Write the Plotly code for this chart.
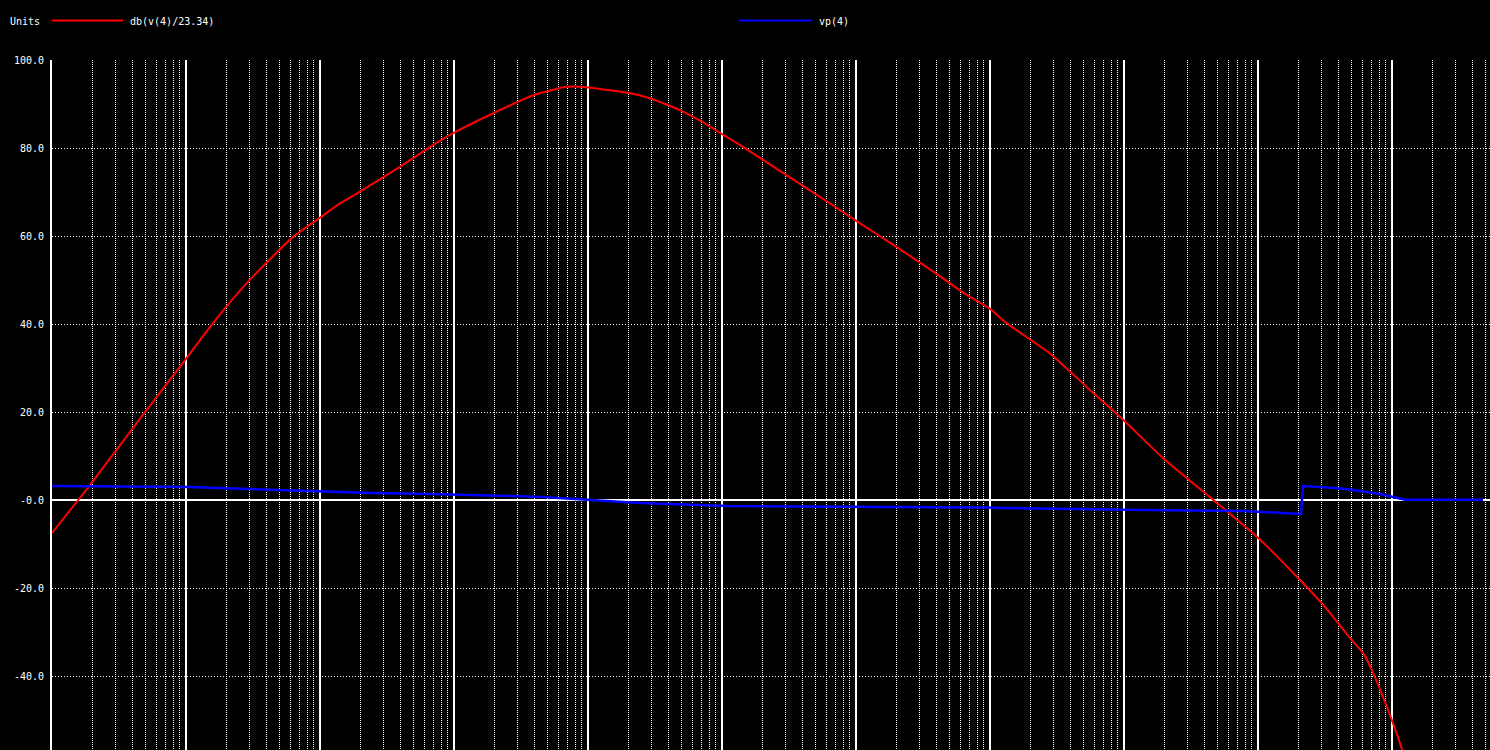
import plotly.graph_objects as go

# ---- data ----
freq_db = [1.0, 1.57, 1.92, 5.09, 9.84, 15.9, 28.4, 62.9, 98.4, 141, 199, 395, 701, 977,
           1963, 3908, 6934, 9772, 12300, 19450, 29040, 48640, 68550, 98400, 144300,
           286600, 538300, 984000, 1.897e6, 3.775e6, 6.70e6, 9.84e6, 1.33e7, 2.805e7,
           5.57e7, 9.88e7, 1.96e8, 4.64e8, 9.77e8, 1.945e9, 3.16e9, 5.0e9, 6.1e9,
           7.25e9, 9.77e9, 1.18e10, 1.25e10]
db_v4 = [-7.5, 0, 3.4, 20.5, 31.8, 40.2, 49.3, 59.8, 64.0, 67.4, 70.1, 75.7, 80.7, 83.3,
         87.9, 92.0, 93.9, 93.8, 93.4, 92.6, 91.3, 88.6, 86.2, 83.3, 80.2,
         74.3, 68.9, 63.6, 58.0, 51.9, 46.6, 43.6, 40.2, 33.3,
         25.0, 18.2, 9.5, 0.0, -8.3, -17.4, -24.3, -31.8, -34.8,
         -39.4, -49.3, -56.4, -59.0]

freq_vp = [1.0, 3.05, 10.7, 17.3, 29.0, 46.1, 70.9, 115, 244, 662, 1435, 2805, 4943, 6855,
           9506, 13400, 19550, 28050, 40930, 67300, 110900, 382000, 2.13e6, 9.18e6,
           1.62e7, 4.16e7, 2.02e8, 7.86e8, 1.19e9, 1.73e9, 2.09e9, 2.17e9, 2.81e9,
           3.76e9, 4.70e9, 5.67e9, 6.74e9, 8.13e9, 9.50e9, 1.11e10, 1.25e10, 4.77e10]
vp_4 = [3.16, 3.10, 2.98, 2.73, 2.50, 2.27, 2.05, 1.82, 1.59, 1.36, 1.14, 0.91, 0.60, 0.30,
        0.0, -0.23, -0.53, -0.76, -0.91, -1.06, -1.36, -1.50, -1.60, -1.68,
        -1.89, -2.11, -2.34, -2.50, -2.80, -3.10, -3.16, 3.18, 3.02,
        2.73, 2.43, 2.11, 1.75, 1.36, 0.91, 0.45, 0.07, 0.05]

y_ticks = [100, 80, 60, 40, 20, 0, -20, -40]
y_labels = ["100.0", "80.0", "60.0", "40.0", "20.0", "-0.0", "-20.0", "-40.0"]

trace_names = ["db(v(4)/23.34)", "vp(4)"]
trace_colors = ["#ff0000", "#0000ff"]

FONT = "DejaVu Sans Mono"

fig = go.Figure()
fig.add_trace(go.Scatter(x=freq_db, y=db_v4, mode="lines", name=trace_names[0],
                         line=dict(color=trace_colors[0], width=2, shape="spline",
                                   smoothing=0.5),
                         showlegend=False))
fig.add_trace(go.Scatter(x=freq_vp, y=vp_4, mode="lines", name=trace_names[1],
                         line=dict(color=trace_colors[1], width=2.5), showlegend=False))

W, H = 1490, 750
ML, MT = 52, 60
PW, PH = W - ML, H - MT


def px(xp):
    return (xp - ML) / PW


def py(yp):
    return (H - yp) / PH


# legend-like header
fig.add_annotation(text="Units", xref="paper", yref="paper", x=px(8), y=py(21),
                   xanchor="left", yanchor="middle", showarrow=False,
                   font=dict(family=FONT, size=10, color="white"))
legend_pos = [(52, 123, 128), (739, 812, 817)]
for (x0, x1, xt), name, col in zip(legend_pos, trace_names, trace_colors):
    fig.add_shape(type="line", xref="paper", yref="paper", x0=px(x0), x1=px(x1),
                  y0=py(20.5), y1=py(20.5), line=dict(color=col, width=2))
    fig.add_annotation(text=name, xref="paper", yref="paper", x=px(xt), y=py(21),
                       xanchor="left", yanchor="middle", showarrow=False,
                       font=dict(family=FONT, size=10, color="white"))

fig.update_layout(
    width=W, height=H,
    margin=dict(l=ML, r=0, t=MT, b=0),
    paper_bgcolor="black", plot_bgcolor="black",
    font=dict(family=FONT, size=10, color="white"),
    xaxis=dict(type="log", range=[0, (W - ML) / 134.0], dtick=1, tick0=0,
               showgrid=True, gridcolor="white", gridwidth=2,
               showticklabels=False, ticks="", zeroline=False, showline=False,
               minor=dict(dtick="D1", showgrid=True, gridcolor="white",
                          gridwidth=1, griddash="1px,1px", ticks="")),
    yaxis=dict(range=[(500 - H) / 4.4, 100], tickvals=y_ticks, ticktext=y_labels,
               showgrid=True, gridcolor="white", gridwidth=1, griddash="1px,2px",
               zeroline=True, zerolinecolor="white", zerolinewidth=2,
               showline=True, linecolor="white", linewidth=2,
               ticks="", ticklabelstandoff=4,
               tickfont=dict(family=FONT, size=10, color="white")),
)

post = ("document.body.style.margin='0';document.body.style.padding='0';"
        "document.body.style.background='black';document.body.style.overflow='hidden';"
        "document.documentElement.style.background='black';")
fig.write_html("out.html", post_script=post, config={"displayModeBar": False})
